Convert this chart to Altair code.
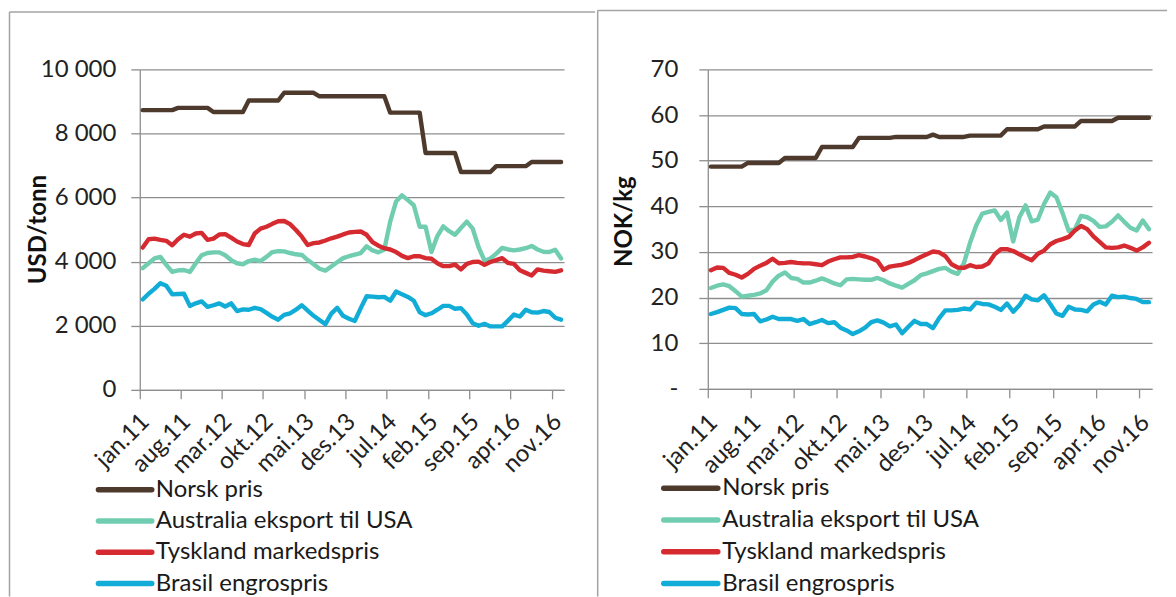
import altair as alt
import pandas as pd

# ---------------- categories ----------------
MONTH_NAMES = ["jan", "feb", "mar", "apr", "mai", "jun", "jul", "aug", "sep", "okt", "nov", "des"]
YEARS = ["11", "12", "13", "14", "15", "16"]
months = [f"{m}.{y}" for y in YEARS for m in MONTH_NAMES]
tick_months = months[::7]

series_names = ["Norsk pris", "Australia eksport til USA", "Tyskland markedspris", "Brasil engrospris"]
series_colors = ["#4e3a2c", "#70cdb0", "#d62a31", "#12add6"]

# ---------------- USD/tonn ----------------
usd_norsk = [8730, 8730, 8730, 8730, 8730, 8730, 8800, 8800, 8800, 8800, 8800, 8800,
             8670, 8670, 8670, 8670, 8670, 8670, 9030, 9030, 9030, 9030, 9030, 9030,
             9270, 9270, 9270, 9270, 9270, 9270, 9160, 9160, 9160, 9160, 9160, 9160,
             9160, 9160, 9160, 9160, 9160, 9160, 8650, 8650, 8650, 8650, 8650, 8650,
             7390, 7390, 7390, 7390, 7390, 7390, 6800, 6800, 6800, 6800, 6800, 6800,
             6980, 6980, 6980, 6980, 6980, 6980, 7110, 7110, 7110, 7110, 7110, 7110]
usd_australia = [3800, 3950, 4100, 4150, 3900, 3680, 3730, 3740, 3680, 3950, 4200, 4270,
                 4290, 4290, 4200, 4050, 3950, 3920, 4020, 4060, 4020, 4150, 4300, 4330,
                 4320, 4270, 4230, 4210, 4050, 3920, 3780, 3720, 3850, 3980, 4110, 4170,
                 4220, 4270, 4480, 4350, 4290, 4380, 5250, 5880, 6070, 5920, 5760, 5090,
                 5090, 4300, 4800, 5100, 4950, 4840, 5050, 5250, 5030, 4450, 4030, 4100,
                 4250, 4430, 4380, 4350, 4380, 4420, 4490, 4380, 4310, 4300, 4370, 4100]
usd_tyskland = [4440, 4700, 4720, 4680, 4650, 4510, 4700, 4840, 4780, 4880, 4900, 4680,
                4720, 4850, 4860, 4750, 4630, 4550, 4520, 4880, 5030, 5090, 5180, 5260,
                5270, 5170, 4990, 4780, 4520, 4580, 4600, 4660, 4730, 4780, 4850, 4910,
                4930, 4940, 4840, 4610, 4500, 4420, 4380, 4300, 4180, 4110, 4170, 4170,
                4110, 4090, 3950, 3860, 3860, 3910, 3760, 3930, 3990, 4000, 3900, 3990,
                4050, 4110, 3960, 3930, 3730, 3650, 3570, 3760, 3720, 3700, 3680, 3730]
usd_brasil = [2820, 3000, 3150, 3330, 3250, 2980, 2990, 3000, 2620, 2700, 2760, 2590,
              2640, 2700, 2600, 2700, 2460, 2510, 2500, 2560, 2520, 2400, 2280, 2190,
              2340, 2390, 2500, 2640, 2470, 2310, 2180, 2050, 2380, 2560, 2310, 2220,
              2150, 2550, 2920, 2910, 2890, 2900, 2780, 3070, 2980, 2900, 2780, 2420,
              2330, 2390, 2500, 2620, 2620, 2530, 2550, 2350, 2080, 2000, 2060, 1980,
              1980, 1980, 2160, 2350, 2290, 2500, 2420, 2410, 2460, 2430, 2250, 2190]

# ---------------- NOK/kg ----------------
nok_norsk = [48.7, 48.7, 48.7, 48.7, 48.7, 48.7, 49.5, 49.5, 49.5, 49.5, 49.5, 49.5,
             50.6, 50.6, 50.6, 50.6, 50.6, 50.6, 53.0, 53.0, 53.0, 53.0, 53.0, 53.0,
             55.0, 55.0, 55.0, 55.0, 55.0, 55.0, 55.2, 55.2, 55.2, 55.2, 55.2, 55.2,
             55.7, 55.2, 55.2, 55.2, 55.2, 55.2, 55.5, 55.5, 55.5, 55.5, 55.5, 55.5,
             56.9, 56.9, 56.9, 56.9, 56.9, 56.9, 57.5, 57.5, 57.5, 57.5, 57.5, 57.5,
             58.7, 58.7, 58.7, 58.7, 58.7, 58.7, 59.4, 59.4, 59.4, 59.4, 59.4, 59.4]
nok_australia = [22.1, 22.6, 22.9, 22.5, 21.4, 20.2, 20.4, 20.6, 20.9, 21.6, 23.5, 24.8,
                 25.5, 24.3, 24.1, 23.3, 23.3, 23.7, 24.2, 23.7, 23.1, 22.7, 24.0, 24.1,
                 24.0, 23.9, 23.9, 24.3, 23.8, 23.1, 22.6, 22.2, 23.0, 23.8, 24.9, 25.3,
                 25.8, 26.3, 26.5, 25.7, 25.2, 27.5, 32.0, 35.8, 38.4, 38.8, 39.1, 37.0,
                 38.6, 32.3, 37.6, 40.2, 36.7, 37.1, 40.5, 43.0, 42.0, 38.5, 34.6, 35.0,
                 37.9, 37.6, 36.8, 35.5, 35.6, 36.6, 38.0, 36.6, 35.3, 34.7, 36.9, 35.0]
nok_tyskland = [26.0, 26.6, 26.5, 25.4, 25.0, 24.4, 25.2, 26.3, 27.0, 27.6, 28.5, 27.5,
                27.6, 27.8, 27.6, 27.5, 27.5, 27.3, 27.1, 27.9, 28.4, 28.8, 28.8, 28.9,
                29.3, 29.0, 28.6, 28.0, 26.1, 26.8, 27.0, 27.2, 27.6, 28.2, 28.9, 29.5,
                30.1, 29.9, 29.1, 27.3, 26.6, 26.5, 27.1, 26.7, 26.8, 27.5, 29.5, 30.6,
                30.6, 30.2, 29.5, 28.8, 28.2, 29.6, 30.3, 31.7, 32.4, 32.8, 33.3, 34.7,
                35.7, 35.0, 33.4, 32.2, 31.0, 30.9, 31.0, 31.4, 30.9, 30.3, 31.0, 32.0]
nok_brasil = [16.4, 16.8, 17.3, 17.8, 17.7, 16.4, 16.3, 16.4, 14.8, 15.2, 15.8, 15.3,
              15.3, 15.3, 14.9, 15.3, 14.2, 14.6, 15.1, 14.4, 14.6, 13.4, 12.8, 12.0,
              12.6, 13.4, 14.6, 15.0, 14.5, 13.7, 14.1, 12.2, 13.6, 14.9, 14.2, 14.2,
              13.3, 15.5, 17.2, 17.2, 17.3, 17.6, 17.4, 18.9, 18.6, 18.5, 18.0, 17.3,
              18.7, 16.9, 18.3, 20.4, 19.6, 19.4, 20.5, 18.6, 16.5, 16.0, 18.0, 17.4,
              17.3, 17.0, 18.5, 19.1, 18.5, 20.4, 20.1, 20.2, 19.9, 19.7, 19.0, 19.0]

usd_ticks = [0, 2000, 4000, 6000, 8000, 10000]
nok_ticks = [0, 10, 20, 30, 40, 50, 60, 70]

FONT = "Lato"
FSIZE = 24
GRID = "#8e8e8e"
BORDER = "#a3a3a3"


def long_table(series_lists):
    rows = []
    for name, vals in zip(series_names, series_lists):
        for i, (m, v) in enumerate(zip(months, vals)):
            rows.append({"month": m, "idx": i, "series": name, "value": v})
    return pd.DataFrame(rows)


legend_df = pd.DataFrame({"series": series_names, "row": [0, 1, 2, 3]})
color_scale = alt.Scale(domain=series_names, range=series_colors)
one_row = alt.Data(values=[{"k": 1}])


def panel(df, width, height, ticks, label_expr, title, title_x, title_y, lab_pad,
          xlab_pad, leg_x0, leg_x1, text_x, leg_range, box_left, box_top, box_right):
    x_enc = alt.X(
        "month:N", sort=months, bandPosition=0.5,
        scale=alt.Scale(type="band", paddingInner=0, paddingOuter=0),
        axis=alt.Axis(values=tick_months, labelAngle=315, labelAlign="right",
                      labelBaseline="middle", labelPadding=xlab_pad, labelOffset=3,
                      tickSize=9, bandPosition=0, grid=False, title=None),
    )
    lines = alt.Chart(df).mark_line(strokeWidth=4.4, strokeCap="round", strokeJoin="round").encode(
        x=x_enc,
        y=alt.Y("value:Q", scale=alt.Scale(domain=[ticks[0], ticks[-1]], nice=False, zero=True),
                axis=alt.Axis(values=ticks, labelExpr=label_expr, tickSize=9, labelPadding=lab_pad,
                              grid=True, title=title, titleX=title_x, titleY=title_y,
                              titleAngle=270, titleAlign="center", titleBaseline="middle")),
        color=alt.Color("series:N", scale=color_scale, legend=None),
        detail="series:N",
        order="idx:Q",
    )
    leg_y = alt.Y("row:Q", scale=alt.Scale(domain=[0, 3], range=leg_range), axis=None)
    leg_lines = alt.Chart(legend_df).mark_rule(strokeWidth=5.5, strokeCap="round").encode(
        x=alt.value(leg_x0), x2=alt.value(leg_x1), y=leg_y,
        color=alt.Color("series:N", scale=color_scale, legend=None),
    )
    leg_text = alt.Chart(legend_df).mark_text(
        align="left", baseline="middle", font=FONT, fontSize=FSIZE, color="#1a1a1a"
    ).encode(x=alt.value(text_x), y=leg_y, text="series:N")
    top_border = alt.Chart(one_row).mark_rule(stroke=BORDER, strokeWidth=1.5).encode(
        x=alt.value(box_left), x2=alt.value(box_right), y=alt.value(box_top)
    )
    left_border = alt.Chart(one_row).mark_rule(stroke=BORDER, strokeWidth=1.5).encode(
        x=alt.value(box_left), y=alt.value(box_top), y2=alt.value(528)
    )
    return alt.layer(lines, leg_lines, leg_text, top_border, left_border).resolve_scale(
        y="independent"
    ).properties(width=width, height=height)


left = panel(
    long_table([usd_norsk, usd_australia, usd_tyskland, usd_brasil]),
    425, 321, usd_ticks, "replace(format(datum.value, ','), ',', ' ')",
    "USD/tonn", -101, 160, 15, 19, -41.4, 12, 16, [421, 515], -130.5, -57.5, 456,
)
right = panel(
    long_table([nok_norsk, nok_australia, nok_tyskland, nok_brasil]),
    445, 320, nok_ticks, "datum.value == 0 ? '-' : format(datum.value, 'd')",
    "NOK/kg", -83.4, 152, 21, 21, -44.1, 10, 14.5, [419.5, 515], -110.3, -59, 460,
)

chart = alt.hconcat(left, right, spacing=0).properties(
    padding={"left": 0, "top": 1, "right": 0, "bottom": 0}
).configure_view(stroke=None).configure_axis(
    labelFont=FONT, labelFontSize=FSIZE, labelColor="#222222",
    titleFont=FONT, titleFontSize=FSIZE, titleColor="#111111", titleFontWeight="bold",
    gridColor=GRID, gridWidth=1.3, domainColor=GRID, domainWidth=1.3,
    tickColor=GRID, tickWidth=1.3,
)

chart.save("out.html", embed_options={"renderer": "svg", "actions": False})
